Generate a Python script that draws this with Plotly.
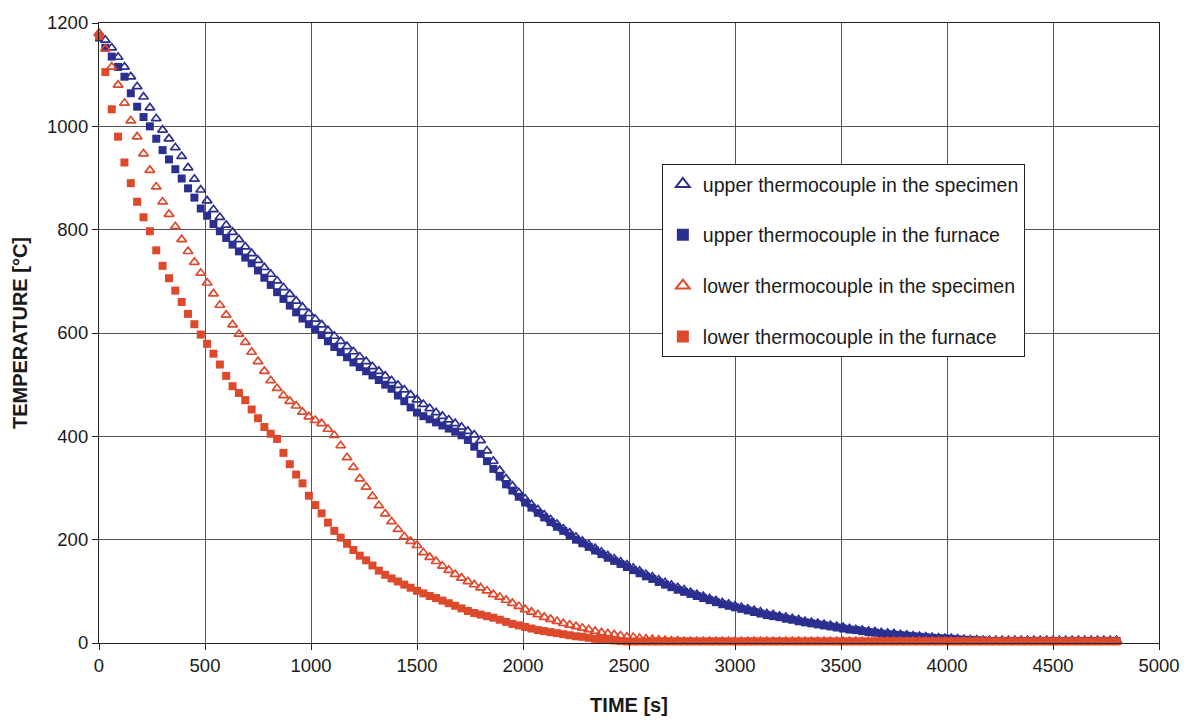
import plotly.graph_objects as go

# sampling instants (s), one reading every 30 s from 0 to 4800 s
TIME = list(range(0, 4801, 30))

upper_specimen = [
    1180, 1167, 1152, 1134, 1115, 1096, 1077, 1057, 1036, 1015,
    993, 976, 959, 942, 920, 898, 877, 856, 839, 824,
    809, 795, 781, 767, 754, 741, 727, 714, 701, 688,
    675, 662, 650, 638, 627, 616, 605, 594, 584, 574,
    564, 554, 545, 535, 526, 517, 508, 499, 490, 480,
    471, 462, 454, 446, 439, 432, 425, 418, 410, 403,
    392, 372, 352, 334, 318, 304, 291, 279, 268, 258,
    248, 239, 230, 221, 213, 205, 197, 190, 183, 176,
    169, 163, 157, 151, 145, 139, 133, 128, 122, 117,
    112, 107, 103, 98, 94, 90, 86, 82, 78, 75,
    72, 69, 66, 63, 60, 57, 55, 52, 50, 47,
    45, 42, 40, 38, 36, 34, 32, 30, 28, 26,
    25, 23, 22, 20, 19, 18, 16, 15, 14, 13,
    12, 11, 10, 9, 9, 8, 7, 6, 6, 5,
    5, 5, 5, 5, 5, 5, 5, 5, 5, 5,
    5, 5, 5, 5, 5, 5, 5, 5, 5, 5,
    5,
]

upper_furnace = [
    1172, 1152, 1135, 1115, 1096, 1064, 1038, 1018, 1000, 976,
    954, 936, 917, 899, 880, 862, 841, 827, 811, 797,
    784, 771, 758, 746, 735, 721, 707, 693, 679, 666,
    653, 640, 628, 617, 607, 596, 584, 573, 563, 553,
    543, 534, 526, 518, 509, 500, 492, 479, 468, 456,
    446, 439, 433, 427, 421, 415, 409, 402, 393, 380,
    366, 352, 337, 322, 307, 295, 283, 272, 262, 252,
    243, 234, 225, 217, 208, 200, 193, 186, 179, 172,
    165, 159, 153, 147, 141, 135, 129, 124, 118, 113,
    108, 103, 99, 95, 91, 87, 83, 79, 75, 72,
    69, 66, 63, 60, 57, 54, 52, 50, 47, 45,
    42, 40, 38, 36, 34, 32, 30, 28, 26, 25,
    23, 21, 20, 18, 17, 16, 15, 14, 13, 12,
    11, 10, 9, 9, 8, 7, 6, 6, 5, 5,
    4, 4, 4, 4, 4, 4, 4, 4, 4, 4,
    4, 4, 4, 4, 4, 4, 4, 4, 4, 4,
    4,
]

lower_specimen = [
    1180, 1150, 1115, 1080, 1045, 1011, 980, 947, 915, 883,
    854, 830, 806, 781, 758, 737, 716, 697, 676, 654,
    635, 616, 598, 582, 563, 545, 526, 508, 493, 479,
    468, 459, 447, 438, 431, 425, 414, 402, 382, 359,
    340, 318, 302, 284, 266, 250, 235, 220, 206, 197,
    189, 175, 166, 158, 149, 141, 133, 126, 119, 113,
    107, 101, 94, 89, 83, 77, 71, 65, 60, 55,
    50, 46, 42, 38, 35, 32, 29, 26, 23, 20,
    18, 16, 14, 12, 11, 9, 8, 7, 6, 5,
    4, 4, 3, 3, 3, 3, 3, 3, 3, 3,
    3, 3, 3, 3, 3, 3, 3, 3, 3, 3,
    3, 3, 3, 3, 3, 3, 3, 3, 3, 3,
    3, 3, 3, 3, 3, 3, 3, 3, 3, 3,
    3, 3, 3, 3, 3, 3, 3, 3, 3, 3,
    3, 3, 3, 3, 3, 3, 3, 3, 3, 3,
    3, 3, 3, 3, 3, 3, 3, 3, 3, 3,
    3,
]

lower_furnace = [
    1175, 1105, 1033, 980, 930, 890, 854, 824, 797, 760,
    730, 706, 682, 660, 637, 617, 597, 579, 560, 539,
    517, 497, 484, 470, 452, 435, 418, 405, 395, 368,
    346, 326, 309, 285, 267, 251, 233, 217, 204, 192,
    180, 169, 160, 150, 140, 132, 125, 119, 113, 107,
    101, 96, 91, 87, 82, 77, 72, 67, 62, 58,
    55, 52, 49, 45, 41, 37, 34, 31, 28, 25,
    23, 21, 19, 17, 15, 13, 12, 10, 8, 7,
    6, 5, 4, 3, 3, 3, 3, 3, 3, 3,
    3, 3, 3, 3, 3, 3, 3, 3, 3, 3,
    3, 3, 3, 3, 3, 3, 3, 3, 3, 3,
    3, 3, 3, 3, 3, 3, 3, 3, 3, 3,
    3, 3, 3, 3, 3, 3, 3, 3, 3, 3,
    3, 3, 3, 3, 3, 3, 3, 3, 3, 3,
    3, 3, 3, 3, 3, 3, 3, 3, 3, 3,
    3, 3, 3, 3, 3, 3, 3, 3, 3, 3,
    3,
]

SERIES_NAMES = [
    "upper thermocouple in the specimen",
    "upper thermocouple in the furnace",
    "lower thermocouple in the specimen",
    "lower thermocouple in the furnace",
]

X_TICKS = [0, 500, 1000, 1500, 2000, 2500, 3000, 3500, 4000, 4500, 5000]
Y_TICKS = [0, 200, 400, 600, 800, 1000, 1200]

BLUE = "#2B2F8F"
RED = "#DE482B"
FONT = "Liberation Sans, Arial, sans-serif"
TEXT = "#1a1a1a"

styles = [
    dict(symbol="triangle-up-open", size=8.5, color=BLUE, line=dict(width=1.7, color=BLUE)),
    dict(symbol="square", size=8, color=BLUE, line=dict(width=0)),
    dict(symbol="triangle-up-open", size=8.5, color=RED, line=dict(width=1.7, color=RED)),
    dict(symbol="square", size=8, color=RED, line=dict(width=0)),
]
values = [upper_specimen, upper_furnace, lower_specimen, lower_furnace]

fig = go.Figure()
for i, (name, vals, st) in enumerate(zip(SERIES_NAMES, values, styles)):
    fig.add_trace(go.Scatter(
        x=TIME[:len(vals)], y=vals, mode="markers", name=name,
        marker=st, cliponaxis=False, legendgroup=f"g{i}",
    ))

axis_common = dict(
    showgrid=True, gridcolor="#555555", gridwidth=1,
    showline=True, linecolor="#222", linewidth=1.2, mirror=True,
    ticks="outside", ticklen=6, tickcolor="#222", tickwidth=1,
    zeroline=False,
    tickfont=dict(family=FONT, size=18.5, color=TEXT),
)

fig.update_xaxes(
    range=[0, 5000], tickvals=X_TICKS, ticktext=[str(v) for v in X_TICKS],
    title=dict(text="<b>TIME [s]</b>", font=dict(family=FONT, size=20, color=TEXT), standoff=22),
    **axis_common,
)
fig.update_yaxes(
    range=[0, 1200], tickvals=Y_TICKS, ticktext=[str(v) for v in Y_TICKS],
    title=dict(text="<b>TEMPERATURE [°C]</b>", font=dict(family=FONT, size=20, color=TEXT), standoff=14),
    **axis_common,
)

fig.update_layout(
    width=1192, height=725,
    margin=dict(l=99, r=32, t=16, b=82),
    plot_bgcolor="white", paper_bgcolor="white",
    font=dict(family=FONT, color=TEXT),
    legend=dict(
        x=0.531, y=0.773, xanchor="left", yanchor="top",
        bgcolor="white", bordercolor="#222", borderwidth=1,
        font=dict(family=FONT, size=19.5, color=TEXT),
        tracegroupgap=22.5, itemsizing="constant",
    ),
)

fig.write_html("out.html")
